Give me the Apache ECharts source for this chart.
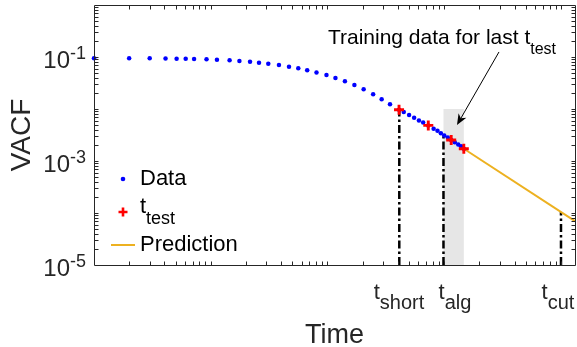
<!DOCTYPE html>
<html>
<head>
<meta charset="utf-8">
<title>VACF</title>
<script src="https://cdn.jsdelivr.net/npm/echarts@6/dist/echarts.min.js"></script>
<style>
html, body { margin: 0; padding: 0; background: #fff; }
#chart { width: 577px; height: 347px; }
</style>
</head>
<body>
<div id="chart"></div>
<script>
// values (time on a log axis, VACF on a log axis)
var dataT = [1, 2, 3, 4.1, 5.1, 6.1, 7.2, 9.2, 11.3, 14.5, 17.6, 21.7, 25.9, 31.1, 38.4, 46.8, 56.2, 67, 80.5, 98,
    117, 141, 170, 204, 246, 291, 343, 410, 450, 500, 552, 607, 660, 730, 811, 875, 936, 1000, 1073, 1147,
    1231, 1318, 1394, 1471];
var dataV = [0.0944, 0.0944, 0.0944, 0.094, 0.0927, 0.0927, 0.0915, 0.0903, 0.0887, 0.0864, 0.0838, 0.0812,
    0.0777, 0.0743, 0.0702, 0.0651, 0.0606, 0.0557, 0.0503, 0.045, 0.0396, 0.0342, 0.0289, 0.0239, 0.0193,
    0.0154, 0.0124, 0.00965, 0.00876, 0.00767, 0.00677, 0.00601, 0.0055, 0.00484, 0.00418, 0.00381, 0.00342,
    0.00309, 0.00283, 0.00253, 0.0023, 0.00208, 0.00192, 0.00172];
var testT = [410, 730, 1147, 1471];
var testV = [0.00965, 0.00484, 0.00253, 0.00172];
var predT = [1471, 13183];
var predV = [0.00172, 0.00007];
var markNames = ['short', 'alg', 'cut'];
var markT = [412, 985, 10000];
var markV = [0.0096, 0.003, 0.000105];
var markLabelT = [410, 1236, 9425];
var shadeT = [985, 1471];
var shadeV = [1e-5, 0.01];
var arrowT = [2944, 1286];
var arrowV = [0.125, 0.00492];
var yLabelExp = [-1, -3, -5];
var xRange = [1, 13183];
var yRange = [1e-5, 1];

var INK = '#262626';
var FONT = '"Liberation Sans", Arial, Helvetica, sans-serif';

// legend icons, drawn inside a 24x14 box
var dotIcon = 'path://M0,0M24,14M14.3,7A2.3,2.3,0,1,1,9.7,7A2.3,2.3,0,1,1,14.3,7Z';
var plusIcon = 'path://M0,0M24,14M10.7,2.5H13.3V5.7H16.5V8.3H13.3V11.5H10.7V8.3H7.5V5.7H10.7Z';
var lineIcon = 'path://M0,0M24,14M0,6H24V8H0Z';
var plusSymbol = 'path://M3.2,0H5.8V3.2H9V5.8H5.8V9H3.2V5.8H0V3.2H3.2Z';

function pairs(xs, ys) {
    return xs.map(function (x, i) {
        return [x, ys[i]];
    });
}

function logTicks(range) {
    var out = [];
    var lo = Math.floor(Math.log10(range[0]));
    var hi = Math.ceil(Math.log10(range[1]));
    for (var e = lo; e <= hi; e++) {
        for (var m = 1; m < 10; m++) {
            var v = m * Math.pow(10, e);
            if (v > range[0] * 1.001 && v < range[1] * 0.999) out.push(v);
        }
    }
    return out;
}

function seg(x1, y1, x2, y2) {
    return {
        type: 'line',
        shape: { x1: x1, y1: y1, x2: x2, y2: y2 },
        style: { stroke: INK, lineWidth: 1 }
    };
}

function renderFrame(params, api) {
    var cs = params.coordSys;
    var l = Math.round(cs.x) + 0.5, r = Math.round(cs.x + cs.width) + 0.5;
    var t = Math.round(cs.y) + 0.5, b = Math.round(cs.y + cs.height) + 0.5;
    var len = 4;
    var children = [{
        type: 'rect',
        shape: { x: l, y: t, width: r - l, height: b - t },
        style: { fill: null, stroke: INK, lineWidth: 1 }
    }];
    logTicks(xRange).forEach(function (v) {
        var px = Math.round(api.coord([v, yRange[0]])[0]) + 0.5;
        children.push(seg(px, b, px, b - len), seg(px, t, px, t + len));
    });
    logTicks(yRange).forEach(function (v) {
        var py = Math.round(api.coord([xRange[0], v])[1]) + 0.5;
        children.push(seg(l, py, l + len, py), seg(r, py, r - len, py));
    });
    return { type: 'group', children: children };
}

function renderShade(params, api) {
    var p0 = api.coord([shadeT[0], shadeV[1]]);
    var p1 = api.coord([shadeT[1], shadeV[0]]);
    return {
        type: 'rect',
        shape: { x: p0[0], y: p0[1], width: p1[0] - p0[0], height: p1[1] - p0[1] },
        style: { fill: '#e6e6e6' }
    };
}

var markRich = {
    t: { fontSize: 22, lineHeight: 22, padding: [0, 0, 12, 0], fontFamily: FONT, fill: INK, color: INK },
    s: { fontSize: 20, lineHeight: 20, padding: [11, 0, 3, 0], fontFamily: FONT, fill: INK, color: INK }
};

function renderMark(params, api) {
    var i = params.dataIndex;
    var top = api.coord([markT[i], markV[i]]);
    var bottom = api.coord([markT[i], yRange[0]]);
    var lab = api.coord([markLabelT[i], yRange[0]]);
    return {
        type: 'group',
        children: [{
            type: 'line',
            shape: { x1: bottom[0], y1: bottom[1], x2: top[0], y2: top[1] },
            style: { stroke: '#000', lineWidth: 2.5, lineDash: [8, 3, 2.5, 3] }
        }, {
            type: 'text',
            style: {
                text: '{t|t}{s|' + markNames[i] + '}',
                rich: markRich,
                x: lab[0], y: lab[1] + 23,
                align: 'center', verticalAlign: 'top',
                textAlign: 'center', textVerticalAlign: 'top'
            }
        }]
    };
}

var noteRich = {
    a: { fontSize: 21, lineHeight: 21, padding: [0, 0, 9, 0], fontFamily: FONT, fill: '#000', color: '#000' },
    b: { fontSize: 16, lineHeight: 16, padding: [14, 0, 0, 0], fontFamily: FONT, fill: '#000', color: '#000' }
};

function renderNote(params, api) {
    var tail = api.coord([arrowT[0], arrowV[0]]);
    var head = api.coord([arrowT[1], arrowV[1]]);
    var dx = head[0] - tail[0], dy = head[1] - tail[1];
    var d = Math.sqrt(dx * dx + dy * dy);
    var ux = dx / d, uy = dy / d;
    var hl = 11, hw = 4.5;
    var bx = head[0] - ux * hl, by = head[1] - uy * hl;
    var nx = head[0] - ux * hl * 0.7, ny = head[1] - uy * hl * 0.7;
    return {
        type: 'group',
        children: [{
            type: 'line',
            shape: { x1: tail[0], y1: tail[1], x2: nx, y2: ny },
            style: { stroke: '#000', lineWidth: 1 }
        }, {
            type: 'polygon',
            shape: { points: [head, [bx - uy * hw, by + ux * hw], [nx, ny], [bx + uy * hw, by - ux * hw]] },
            style: { fill: '#000' }
        }, {
            type: 'text',
            style: {
                text: '{a|Training data for last t}{b|test}',
                rich: noteRich,
                x: tail[0] - 57, y: tail[1] - 20,
                align: 'center', verticalAlign: 'top',
                textAlign: 'center', textVerticalAlign: 'top'
            }
        }]
    };
}

var chart = echarts.init(document.getElementById('chart'), null, { renderer: 'canvas' });

var option = {
    animation: false,
    backgroundColor: '#fff',
    grid: {
        left: 94, top: 5, right: 2, bottom: 82,
        containLabel: false,
        outerBoundsMode: 'none',
        show: false
    },
    legend: {
        orient: 'vertical',
        left: 106, top: 163,
        itemWidth: 24, itemHeight: 14, itemGap: 5.5,
        selectedMode: false,
        itemStyle: { borderWidth: 0, opacity: 1 },
        data: [
            { name: 'Data', icon: dotIcon },
            { name: 't_test', icon: plusIcon },
            { name: 'Prediction', icon: lineIcon }
        ],
        formatter: function (name) {
            return name === 't_test' ? '{t|t}{s|test}' : '{n|' + name + '}';
        },
        textStyle: {
            color: '#000',
            rich: {
                n: { fontSize: 22, lineHeight: 32, fontFamily: FONT, color: '#000' },
                t: { fontSize: 22, lineHeight: 22, padding: [0, 0, 10, 0], fontFamily: FONT, color: '#000' },
                s: { fontSize: 18, lineHeight: 18, padding: [15, 0, 0, 0], fontFamily: FONT, color: '#000' }
            }
        }
    },
    xAxis: {
        type: 'log',
        logBase: 10,
        min: xRange[0],
        max: xRange[1],
        axisLine: { show: false },
        axisTick: { show: false },
        axisLabel: { show: false },
        splitLine: { show: false },
        name: 'Time',
        nameLocation: 'middle',
        nameGap: 57,
        nameMoveOverlap: false,
        nameTextStyle: { color: INK, fontSize: 27, fontFamily: FONT }
    },
    yAxis: {
        type: 'log',
        logBase: 10,
        min: yRange[0],
        max: yRange[1],
        axisLine: { show: false },
        axisTick: { show: false },
        splitLine: { show: false },
        axisLabel: {
            margin: 8,
            formatter: function (val) {
                var e = Math.round(Math.log10(val));
                return yLabelExp.indexOf(e) >= 0 ? '{b|10}{s|' + e + '}' : '';
            },
            rich: {
                b: { fontSize: 24, lineHeight: 24, padding: [8, 0, 0, 0], fontFamily: FONT, color: INK },
                s: { fontSize: 18, lineHeight: 18, padding: [4.5, 0, 9.5, 0], fontFamily: FONT, color: INK }
            }
        },
        name: 'VACF',
        nameLocation: 'middle',
        nameGap: 58,
        nameMoveOverlap: false,
        nameTextStyle: { color: INK, fontSize: 28, fontFamily: FONT }
    },
    series: [{
        name: 'shade',
        type: 'custom',
        renderItem: renderShade,
        data: [[shadeT[0], shadeV[0]]],
        silent: true,
        clip: false,
        z: 1
    }, {
        name: 'marks',
        type: 'custom',
        renderItem: renderMark,
        data: pairs(markT, markV),
        silent: true,
        clip: false,
        z: 2
    }, {
        name: 'Prediction',
        type: 'line',
        data: pairs(predT, predV),
        symbol: 'none',
        color: '#edb120',
        lineStyle: { color: '#edb120', width: 2 },
        clip: false,
        z: 3
    }, {
        name: 'Data',
        type: 'scatter',
        data: pairs(dataT, dataV),
        symbol: 'circle',
        symbolSize: 4.5,
        itemStyle: { color: '#0000ff', opacity: 1 },
        clip: false,
        z: 4
    }, {
        name: 't_test',
        type: 'scatter',
        data: pairs(testT, testV),
        symbol: plusSymbol,
        symbolSize: 10,
        itemStyle: { color: '#ff0000', opacity: 1 },
        clip: false,
        z: 5
    }, {
        name: 'note',
        type: 'custom',
        renderItem: renderNote,
        data: [[arrowT[0], arrowV[0]]],
        silent: true,
        clip: false,
        z: 6
    }, {
        name: 'frame',
        type: 'custom',
        renderItem: renderFrame,
        data: [[xRange[0], yRange[0]]],
        silent: true,
        clip: false,
        z: 7
    }]
};

chart.setOption(option);
</script>
</body>
</html>
